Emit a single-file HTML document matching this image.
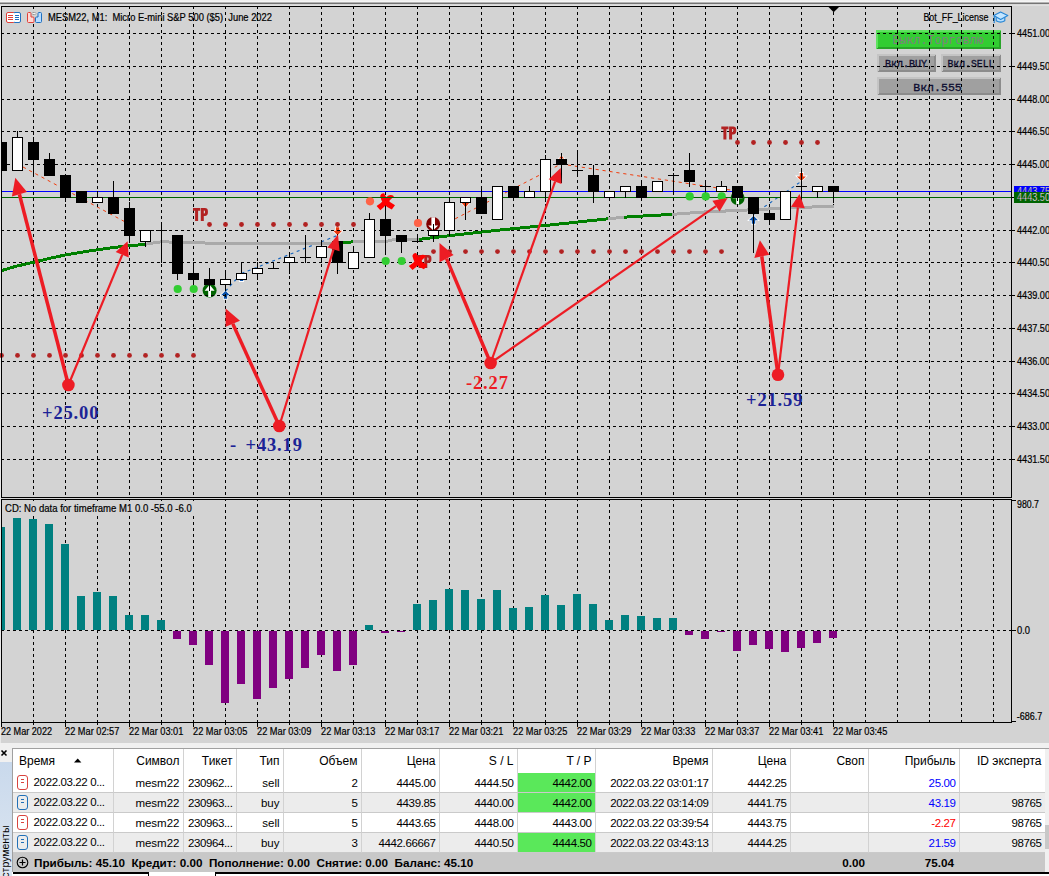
<!DOCTYPE html>
<html><head><meta charset="utf-8"><title>MESM22,M1</title>
<style>
html,body{margin:0;padding:0;}
body{width:1049px;height:876px;overflow:hidden;background:#d3d3d3;position:relative;font-family:"Liberation Sans",sans-serif;}
#chart{position:absolute;left:0;top:0;width:1049px;height:746px;display:block;}
.t11{font-family:"Liberation Sans",sans-serif;font-size:10px;fill:#000;stroke:#000;stroke-width:0.2px;}
.btn{position:absolute;box-sizing:border-box;font-family:"Liberation Mono",monospace;text-align:center;white-space:nowrap;overflow:hidden;}
.gbtn{background:#a0a0a0;border-top:2px solid #c0c0c0;border-left:2px solid #bcbcbc;border-bottom:2px solid #909090;border-right:2px solid #909090;color:#0c0c30;}
#panel{position:absolute;left:0;top:746px;width:1049px;height:130px;background:#fff;overflow:hidden;}
#side{position:absolute;left:0;top:0;width:12px;height:130px;background:#f0f0f0;}
#side .grad{position:absolute;left:0;top:16px;width:12px;height:114px;background:linear-gradient(#c9d9ec,#dde6f1);}
#side .vt{position:absolute;left:-1px;top:145px;transform:rotate(-90deg);transform-origin:0 0;font-size:10.5px;white-space:nowrap;color:#000;width:90px;}
table{position:absolute;left:13px;top:3px;border-collapse:separate;border-spacing:0;table-layout:fixed;width:1032px;font-size:11.5px;color:#000;}
td.n{letter-spacing:-0.38px;}
th{font-size:12px;}
td,th{height:20px;padding:0 3.5px 0 0;text-align:right;font-weight:normal;white-space:nowrap;overflow:hidden;border-right:1px solid #d2d2d2;border-bottom:1px solid #cacaca;box-sizing:border-box;}
th{height:24px;border-bottom:none;padding-top:0px;}
tr.g td{background:#ececec;}
td.l,th.l{text-align:left;padding-left:6px;}
td.tp{background:#5ae85a !important;}
td.pos{color:#0000ff;} td.neg{color:#ff0000;}
.ic{display:inline-block;width:8.6px;height:12.6px;border:1.7px solid #d9433d;border-radius:3px;vertical-align:-4px;margin:0 6px 0 -2px;position:relative;box-sizing:content-box;}
.ic.b{border-color:#2070b8;}
.ic:before,.ic:after{content:"";position:absolute;left:3px;width:3px;height:1px;background:#d9433d;top:3px;}
.ic:after{top:6px;}
.ic.b:before,.ic.b:after{background:#2070b8;}
#sum{position:absolute;left:13px;top:107px;width:1032px;height:19px;background:#c8c8c8;font-weight:bold;font-size:11.7px;line-height:19px;white-space:nowrap;}
</style></head><body>
<svg id="chart" width="1049" height="746" viewBox="0 0 1049 746">
<defs><linearGradient id="tg" x1="0" y1="0" x2="0" y2="1"><stop offset="0" stop-color="#f2f2f2"/><stop offset="0.4" stop-color="#e8e8e8"/><stop offset="0.55" stop-color="#a8a8a8"/><stop offset="0.8" stop-color="#8a8a8a"/><stop offset="1" stop-color="#c8c8c8"/></linearGradient></defs>
<rect x="0" y="0" width="1049" height="746" fill="#d3d3d3"/>
<g shape-rendering="crispEdges"><rect x="0" y="0" width="1049" height="1" fill="#f0f0f0"/><rect x="0" y="1" width="1049" height="1" fill="#f5f5f5"/><rect x="0" y="2" width="1049" height="1" fill="#b4b4b4"/><rect x="0" y="3" width="1049" height="1" fill="#747474"/><rect x="0" y="4" width="1049" height="1" fill="#d8d8d8"/><rect x="0" y="5" width="1049" height="1" fill="#e0e0e0"/></g>
<rect x="0" y="6" width="1" height="737" fill="#e8e8e8"/>
<g shape-rendering="crispEdges"><rect x="876" y="30" width="125" height="19" fill="#32cd32"/><path d="M876 30H1001L999 32H878V47L876 49Z" fill="#5fe25f"/><path d="M1001 49H876L878 47H999V32L1001 30Z" fill="#28a428"/></g>
<g shape-rendering="crispEdges"><rect x="877" y="54" width="59" height="18" fill="#a0a0a0"/><path d="M877 54H936L934 56H879V70L877 72Z" fill="#c4c4c4"/><path d="M936 72H877L879 70H934V56L936 54Z" fill="#8c8c8c"/></g>
<g shape-rendering="crispEdges"><rect x="941" y="54" width="60" height="18" fill="#a0a0a0"/><path d="M941 54H1001L999 56H943V70L941 72Z" fill="#c4c4c4"/><path d="M1001 72H941L943 70H999V56L1001 54Z" fill="#8c8c8c"/></g>
<g shape-rendering="crispEdges"><rect x="877" y="77" width="124" height="18" fill="#a0a0a0"/><path d="M877 77H1001L999 79H879V93L877 95Z" fill="#c4c4c4"/><path d="M1001 95H877L879 93H999V79L1001 77Z" fill="#8c8c8c"/></g>
<g font-family="Liberation Mono, monospace" text-anchor="middle">
<text x="938" y="44" font-size="12" fill="#808080" textLength="91" lengthAdjust="spacingAndGlyphs">Выкл.Торговлю</text>
<text x="906" y="66.5" font-size="10" fill="#0c0c30" stroke="#0c0c30" stroke-width="0.3" textLength="42" lengthAdjust="spacingAndGlyphs">Вкл.BUY</text>
<text x="971" y="66.5" font-size="10" fill="#0c0c30" stroke="#0c0c30" stroke-width="0.3" textLength="47" lengthAdjust="spacingAndGlyphs">Вкл.SELL</text>
<text x="937.5" y="90.5" font-size="11.5" fill="#0c0c30" stroke="#0c0c30" stroke-width="0.3" textLength="48.5" lengthAdjust="spacingAndGlyphs">Вкл.555</text>
</g>
<g transform="translate(225.5,295.3)"><path d="M0 -4.5L4.5 0H1.7V3.5H-1.7V0H-4.5Z" fill="#0a50a8" stroke="#fff" stroke-width="1.6" paint-order="stroke"/></g>
<g transform="translate(753.5,220.3)"><path d="M0 -4.5L4.5 0H1.7V3.5H-1.7V0H-4.5Z" fill="#0a50a8" stroke="#fff" stroke-width="1.6" paint-order="stroke"/></g>
<g transform="translate(241.5,277.6)"><path d="M0 -4.5L4.5 0H1.7V3.5H-1.7V0H-4.5Z" fill="#0a50a8" stroke="#fff" stroke-width="1.6" paint-order="stroke"/></g>
<g transform="translate(337.6,230.7)"><path d="M0 4.5L4.5 0H1.7V-3.5H-1.7V0H-4.5Z" fill="#e8380c" stroke="#fff" stroke-width="1.6" paint-order="stroke"/></g>
<g transform="translate(801.4,176.4)"><path d="M0 4.5L4.5 0H1.7V-3.5H-1.7V0H-4.5Z" fill="#e8380c" stroke="#fff" stroke-width="1.6" paint-order="stroke"/></g>
<path d="M461.5 202.5H469.5L465.5 207.5Z" fill="#e8380c" stroke="#fff" stroke-width="1.2" paint-order="stroke"/>
<path d="M559 158.5H564L561.5 155.5Z" fill="#e8380c" stroke="#fff" stroke-width="1.2" paint-order="stroke"/>
<g fill="none" stroke-width="1.3" stroke-dasharray="3.4 3.4">
<line x1="23" y1="167" x2="129" y2="224" stroke="#f03c0c" stroke-width="1" stroke-dasharray="3.2 3.8"/>
<line x1="449" y1="222" x2="561" y2="164" stroke="#f03c0c" stroke-width="1" stroke-dasharray="3.2 3.8"/>
<line x1="561" y1="164" x2="737" y2="191" stroke="#f03c0c" stroke-width="1" stroke-dasharray="3.2 3.8"/>
<line x1="225.5" y1="291" x2="241.5" y2="273.5" stroke="#1464be" stroke-width="1.15" stroke-dasharray="3 3.6"/>
<line x1="241.5" y1="273.5" x2="337.5" y2="235.4" stroke="#1464be" stroke-width="1.15" stroke-dasharray="3 3.6"/>
<line x1="753.5" y1="214.3" x2="801.5" y2="181.2" stroke="#1464be" stroke-width="1.15" stroke-dasharray="3 3.6"/>
</g>
<g transform="translate(209.6,290.5)"><circle r="7" fill="#006400"/><path d="M0 -5.8L5 0.3H1.4V6.6H-1.4V0.3H-5Z" fill="#fff"/></g>
<g transform="translate(737.6,198)"><circle r="7" fill="#006400"/><path d="M0 -5.8L5 0.3H1.4V6.6H-1.4V0.3H-5Z" fill="#fff"/></g>
<g transform="translate(433.2,224)"><circle r="7" fill="#800000"/><path d="M0 6.3L5 1.4H1.8V-6.8H-1.8V1.4H-5Z" fill="#fff"/></g>
<g shape-rendering="crispEdges" stroke="#000" stroke-width="1" stroke-dasharray="3 3" fill="none">
<path d="M33.5 6V722"/>
<path d="M65.5 6V722"/>
<path d="M97.5 6V722"/>
<path d="M129.5 6V722"/>
<path d="M161.5 6V722"/>
<path d="M193.5 6V722"/>
<path d="M225.5 6V722"/>
<path d="M257.5 6V722"/>
<path d="M289.5 6V722"/>
<path d="M321.5 6V722"/>
<path d="M353.5 6V722"/>
<path d="M385.5 6V722"/>
<path d="M417.5 6V722"/>
<path d="M449.5 6V722"/>
<path d="M481.5 6V722"/>
<path d="M513.5 6V722"/>
<path d="M545.5 6V722"/>
<path d="M577.5 6V722"/>
<path d="M609.5 6V722"/>
<path d="M641.5 6V722"/>
<path d="M673.5 6V722"/>
<path d="M705.5 6V722"/>
<path d="M737.5 6V722"/>
<path d="M769.5 6V722"/>
<path d="M801.5 6V722"/>
<path d="M833.5 6V722"/>
<path d="M865.5 6V722"/>
<path d="M897.5 6V722"/>
<path d="M929.5 6V722"/>
<path d="M961.5 6V722"/>
<path d="M993.5 6V722"/>
<path d="M1 33.5H1011"/>
<path d="M1 66.5H1011"/>
<path d="M1 99.5H1011"/>
<path d="M1 131.5H1011"/>
<path d="M1 164.5H1011"/>
<path d="M1 197.5H1011"/>
<path d="M1 230.5H1011"/>
<path d="M1 262.5H1011"/>
<path d="M1 295.5H1011"/>
<path d="M1 328.5H1011"/>
<path d="M1 361.5H1011"/>
<path d="M1 393.5H1011"/>
<path d="M1 426.5H1011"/>
<path d="M1 459.5H1011"/>
<path d="M1 630.5H1011"/>
</g>
<rect x="2" y="501" width="195" height="14" fill="#d3d3d3"/>
<g transform="translate(193,208)" fill="#b22222"><path d="M0 0H7.2V2.7H5.1V13H2.1V2.7H0Z"/><path fill-rule="evenodd" d="M7.8 0H11.8Q14.9 0 14.9 3V4.8Q14.9 7.9 11.8 7.9H10.8V13H7.8ZM10.8 2.4V5.5H11.2Q12 5.5 12 4.6V3.3Q12 2.4 11.2 2.4Z"/></g>
<g transform="translate(416.5,255)" fill="#b22222"><path d="M0 0H7.2V2.7H5.1V13H2.1V2.7H0Z"/><path fill-rule="evenodd" d="M7.8 0H11.8Q14.9 0 14.9 3V4.8Q14.9 7.9 11.8 7.9H10.8V13H7.8ZM10.8 2.4V5.5H11.2Q12 5.5 12 4.6V3.3Q12 2.4 11.2 2.4Z"/></g>
<g transform="translate(721.3,126.5)" fill="#b22222"><path d="M0 0H7.2V2.7H5.1V13H2.1V2.7H0Z"/><path fill-rule="evenodd" d="M7.8 0H11.8Q14.9 0 14.9 3V4.8Q14.9 7.9 11.8 7.9H10.8V13H7.8ZM10.8 2.4V5.5H11.2Q12 5.5 12 4.6V3.3Q12 2.4 11.2 2.4Z"/></g>
<g transform="translate(385.8,201.8)" fill="#ff0000"><path d="M-5.6 -5.6Q-5.0 -8.8 -1.8 -8.6Q0.8 -3.0 4.2 0.2L9.2 3.4L6.0 7.6Q1.0 5.8 -2.2 2.0Q-5.0 -2.0 -5.6 -5.6Z"/><path d="M2.2 -6.0Q5.0 -8.0 8.2 -5.6Q3.8 -1.8 1.4 1.8Q-1.8 5.8 -5.5 8.4L-9.2 4.2Q-4.8 1.8 -1.9 -2.0Q0.2 -4.6 2.2 -6.0Z"/></g>
<g transform="translate(418,261.7)" fill="#ff0000"><path d="M-5.6 -5.6Q-5.0 -8.8 -1.8 -8.6Q0.8 -3.0 4.2 0.2L9.2 3.4L6.0 7.6Q1.0 5.8 -2.2 2.0Q-5.0 -2.0 -5.6 -5.6Z"/><path d="M2.2 -6.0Q5.0 -8.0 8.2 -5.6Q3.8 -1.8 1.4 1.8Q-1.8 5.8 -5.5 8.4L-9.2 4.2Q-4.8 1.8 -1.9 -2.0Q0.2 -4.6 2.2 -6.0Z"/></g>
<g shape-rendering="crispEdges"><rect x="2" y="191" width="1009" height="1" fill="#0000ff"/><rect x="2" y="197" width="1009" height="1" fill="#006400"/></g>
<g fill="#b22222">
<circle cx="1.5" cy="355.4" r="2.4"/>
<circle cx="17.5" cy="355.4" r="2.4"/>
<circle cx="33.5" cy="355.4" r="2.4"/>
<circle cx="49.5" cy="355.4" r="2.4"/>
<circle cx="65.5" cy="355.4" r="2.4"/>
<circle cx="81.5" cy="355.4" r="2.4"/>
<circle cx="97.5" cy="355.4" r="2.4"/>
<circle cx="113.5" cy="355.4" r="2.4"/>
<circle cx="129.5" cy="355.4" r="2.4"/>
<circle cx="145.5" cy="355.4" r="2.4"/>
<circle cx="161.5" cy="355.4" r="2.4"/>
<circle cx="177.5" cy="355.4" r="2.4"/>
<circle cx="193.5" cy="355.4" r="2.4"/>
<circle cx="209.5" cy="224.5" r="2.4"/>
<circle cx="225.5" cy="224.5" r="2.4"/>
<circle cx="241.5" cy="224.5" r="2.4"/>
<circle cx="257.5" cy="224.5" r="2.4"/>
<circle cx="273.5" cy="224.5" r="2.4"/>
<circle cx="289.5" cy="224.5" r="2.4"/>
<circle cx="305.5" cy="224.5" r="2.4"/>
<circle cx="321.5" cy="224.5" r="2.4"/>
<circle cx="337.5" cy="224.5" r="2.4"/>
<circle cx="353.5" cy="224.5" r="2.4"/>
<circle cx="433.5" cy="251.6" r="2.4"/>
<circle cx="449.5" cy="251.6" r="2.4"/>
<circle cx="465.5" cy="251.6" r="2.4"/>
<circle cx="481.5" cy="251.6" r="2.4"/>
<circle cx="497.5" cy="251.6" r="2.4"/>
<circle cx="513.5" cy="251.6" r="2.4"/>
<circle cx="529.5" cy="251.6" r="2.4"/>
<circle cx="545.5" cy="251.6" r="2.4"/>
<circle cx="561.5" cy="251.6" r="2.4"/>
<circle cx="577.5" cy="251.6" r="2.4"/>
<circle cx="593.5" cy="251.6" r="2.4"/>
<circle cx="609.5" cy="251.6" r="2.4"/>
<circle cx="625.5" cy="251.6" r="2.4"/>
<circle cx="641.5" cy="251.6" r="2.4"/>
<circle cx="657.5" cy="251.6" r="2.4"/>
<circle cx="673.5" cy="251.6" r="2.4"/>
<circle cx="689.5" cy="251.6" r="2.4"/>
<circle cx="705.5" cy="251.6" r="2.4"/>
<circle cx="721.5" cy="251.6" r="2.4"/>
<circle cx="737.5" cy="142.5" r="2.4"/>
<circle cx="753.5" cy="142.5" r="2.4"/>
<circle cx="769.5" cy="142.5" r="2.4"/>
<circle cx="785.5" cy="142.5" r="2.4"/>
<circle cx="801.5" cy="142.5" r="2.4"/>
<circle cx="817.5" cy="142.5" r="2.4"/>
</g>
<g fill="#32cd32">
<circle cx="177.7" cy="289" r="4.1"/>
<circle cx="193.7" cy="289" r="4.1"/>
<circle cx="385.7" cy="261" r="4.1"/>
<circle cx="401.7" cy="261" r="4.1"/>
<circle cx="689.7" cy="196.4" r="4.1"/>
<circle cx="705.7" cy="196.4" r="4.1"/>
<circle cx="721.7" cy="196.4" r="4.1"/>
</g>
<g fill="#ff6347">
<circle cx="370" cy="201.3" r="4.1"/>
<circle cx="418" cy="223" r="4.1"/>
</g>
<g shape-rendering="crispEdges" fill="#000">
<rect x="1" y="6" width="1011" height="1"/>
<rect x="1" y="6" width="1" height="717"/>
<rect x="1011" y="6" width="1" height="717"/>
<rect x="1" y="497" width="1011" height="1"/>
<rect x="1" y="498" width="1011" height="1" fill="#d3d3d3"/>
<rect x="1" y="499" width="1011" height="1"/>
<rect x="1" y="722" width="1011" height="1"/>
<rect x="1011" y="33" width="4" height="1"/>
<rect x="1011" y="66" width="4" height="1"/>
<rect x="1011" y="99" width="4" height="1"/>
<rect x="1011" y="131" width="4" height="1"/>
<rect x="1011" y="164" width="4" height="1"/>
<rect x="1011" y="197" width="4" height="1"/>
<rect x="1011" y="230" width="4" height="1"/>
<rect x="1011" y="262" width="4" height="1"/>
<rect x="1011" y="295" width="4" height="1"/>
<rect x="1011" y="328" width="4" height="1"/>
<rect x="1011" y="361" width="4" height="1"/>
<rect x="1011" y="393" width="4" height="1"/>
<rect x="1011" y="426" width="4" height="1"/>
<rect x="1011" y="459" width="4" height="1"/>
<rect x="1011" y="630" width="5" height="1"/><rect x="1011" y="500" width="5" height="1"/><rect x="1011" y="721" width="5" height="1"/>
<rect x="1011" y="197" width="4" height="1"/>
<rect x="1" y="722" width="1" height="5"/>
<rect x="65" y="722" width="1" height="5"/>
<rect x="129" y="722" width="1" height="5"/>
<rect x="193" y="722" width="1" height="5"/>
<rect x="257" y="722" width="1" height="5"/>
<rect x="321" y="722" width="1" height="5"/>
<rect x="385" y="722" width="1" height="5"/>
<rect x="449" y="722" width="1" height="5"/>
<rect x="513" y="722" width="1" height="5"/>
<rect x="577" y="722" width="1" height="5"/>
<rect x="641" y="722" width="1" height="5"/>
<rect x="705" y="722" width="1" height="5"/>
<rect x="769" y="722" width="1" height="5"/>
<rect x="833" y="722" width="1" height="5"/>
<rect x="33" y="722" width="1" height="3"/>
<rect x="97" y="722" width="1" height="3"/>
<rect x="161" y="722" width="1" height="3"/>
<rect x="225" y="722" width="1" height="3"/>
<rect x="289" y="722" width="1" height="3"/>
<rect x="353" y="722" width="1" height="3"/>
<rect x="417" y="722" width="1" height="3"/>
<rect x="481" y="722" width="1" height="3"/>
<rect x="545" y="722" width="1" height="3"/>
<rect x="609" y="722" width="1" height="3"/>
<rect x="673" y="722" width="1" height="3"/>
<rect x="737" y="722" width="1" height="3"/>
<rect x="801" y="722" width="1" height="3"/>
</g>
<polygon points="828.5,7 839,7 833.7,12.3" fill="#000"/>
<g fill="none" stroke-width="3" stroke-linejoin="round" shape-rendering="crispEdges">
<path d="M2 270.5L17 266L33 262.4L49 258.5L65 255L81 252.3L97 249.8L113 247.6L129 245.8L145 244.4" stroke="#008000"/>
<path d="M145 244.4L153 243L161 241.8L180 242.3L200 242.8L225 243.8L311 243.8L330 243.2L343 243" stroke="#a9a9a9"/>
<path d="M343 243L353 241.8" stroke="#008000"/>
<path d="M353 241.8L386 241.5L394 239.6L419 239.4" stroke="#a9a9a9"/>
<path d="M419 239.4L450 235.6L500 230L550 225L608 218.8" stroke="#008000"/>
<path d="M608 218.8L624 217.2" stroke="#a9a9a9"/>
<path d="M624 217.2L650 215.6L672 214.4" stroke="#008000"/>
<path d="M672 214.4L700 212.2L760 209.4L834 206" stroke="#a9a9a9"/>
</g>
<clipPath id="cc"><rect x="2" y="7" width="1009" height="490"/></clipPath><g shape-rendering="crispEdges" clip-path="url(#cc)">
<rect x="-4" y="142" width="11" height="29" fill="#000"/>
<rect x="17" y="131" width="1" height="6" fill="#000"/>
<rect x="12" y="137" width="11" height="34" fill="#000"/>
<rect x="13" y="138" width="9" height="32" fill="#fff"/>
<rect x="33" y="137" width="1" height="5" fill="#000"/>
<rect x="33" y="159" width="1" height="17" fill="#000"/>
<rect x="28" y="142" width="11" height="18" fill="#000"/>
<rect x="49" y="153" width="1" height="6" fill="#000"/>
<rect x="44" y="159" width="11" height="17" fill="#000"/>
<rect x="65" y="197" width="1" height="5" fill="#000"/>
<rect x="60" y="175" width="11" height="23" fill="#000"/>
<rect x="76" y="191" width="11" height="12" fill="#000"/>
<rect x="97" y="191" width="1" height="6" fill="#000"/>
<rect x="92" y="197" width="11" height="6" fill="#000"/>
<rect x="93" y="198" width="9" height="4" fill="#fff"/>
<rect x="113" y="181" width="1" height="16" fill="#000"/>
<rect x="108" y="197" width="11" height="17" fill="#000"/>
<rect x="129" y="202" width="1" height="6" fill="#000"/>
<rect x="129" y="235" width="1" height="8" fill="#000"/>
<rect x="124" y="208" width="11" height="28" fill="#000"/>
<rect x="145" y="241" width="1" height="6" fill="#000"/>
<rect x="140" y="230" width="11" height="12" fill="#000"/>
<rect x="141" y="231" width="9" height="10" fill="#fff"/>
<rect x="161" y="222" width="1" height="41" fill="#000"/>
<rect x="156" y="230" width="11" height="1" fill="#000"/>
<rect x="177" y="273" width="1" height="7" fill="#000"/>
<rect x="172" y="235" width="11" height="39" fill="#000"/>
<rect x="193" y="262" width="1" height="11" fill="#000"/>
<rect x="193" y="279" width="1" height="6" fill="#000"/>
<rect x="188" y="273" width="11" height="7" fill="#000"/>
<rect x="209" y="268" width="1" height="11" fill="#000"/>
<rect x="209" y="284" width="1" height="7" fill="#000"/>
<rect x="204" y="279" width="11" height="6" fill="#000"/>
<rect x="225" y="270" width="1" height="9" fill="#000"/>
<rect x="225" y="284" width="1" height="7" fill="#000"/>
<rect x="220" y="279" width="11" height="6" fill="#000"/>
<rect x="221" y="280" width="9" height="4" fill="#fff"/>
<rect x="241" y="262" width="1" height="11" fill="#000"/>
<rect x="236" y="273" width="11" height="7" fill="#000"/>
<rect x="237" y="274" width="9" height="5" fill="#fff"/>
<rect x="257" y="262" width="1" height="6" fill="#000"/>
<rect x="257" y="273" width="1" height="7" fill="#000"/>
<rect x="252" y="268" width="11" height="6" fill="#000"/>
<rect x="253" y="269" width="9" height="4" fill="#fff"/>
<rect x="273" y="262" width="1" height="7" fill="#000"/>
<rect x="268" y="268" width="11" height="1" fill="#000"/>
<rect x="289" y="252" width="1" height="5" fill="#000"/>
<rect x="289" y="262" width="1" height="12" fill="#000"/>
<rect x="284" y="257" width="11" height="6" fill="#000"/>
<rect x="285" y="258" width="9" height="4" fill="#fff"/>
<rect x="305" y="235" width="1" height="28" fill="#000"/>
<rect x="300" y="257" width="11" height="1" fill="#000"/>
<rect x="321" y="241" width="1" height="5" fill="#000"/>
<rect x="321" y="257" width="1" height="6" fill="#000"/>
<rect x="316" y="246" width="11" height="12" fill="#000"/>
<rect x="317" y="247" width="9" height="10" fill="#fff"/>
<rect x="337" y="234" width="1" height="7" fill="#000"/>
<rect x="337" y="262" width="1" height="12" fill="#000"/>
<rect x="332" y="241" width="11" height="22" fill="#000"/>
<rect x="353" y="247" width="1" height="5" fill="#000"/>
<rect x="348" y="252" width="11" height="17" fill="#000"/>
<rect x="349" y="253" width="9" height="15" fill="#fff"/>
<rect x="369" y="213" width="1" height="6" fill="#000"/>
<rect x="364" y="219" width="11" height="39" fill="#000"/>
<rect x="365" y="220" width="9" height="37" fill="#fff"/>
<rect x="385" y="207" width="1" height="12" fill="#000"/>
<rect x="385" y="235" width="1" height="20" fill="#000"/>
<rect x="380" y="219" width="11" height="17" fill="#000"/>
<rect x="401" y="241" width="1" height="12" fill="#000"/>
<rect x="396" y="235" width="11" height="7" fill="#000"/>
<rect x="417" y="235" width="1" height="7" fill="#000"/>
<rect x="412" y="241" width="11" height="1" fill="#000"/>
<rect x="433" y="224" width="1" height="6" fill="#000"/>
<rect x="433" y="235" width="1" height="7" fill="#000"/>
<rect x="428" y="230" width="11" height="6" fill="#000"/>
<rect x="429" y="231" width="9" height="4" fill="#fff"/>
<rect x="449" y="197" width="1" height="5" fill="#000"/>
<rect x="449" y="230" width="1" height="6" fill="#000"/>
<rect x="444" y="202" width="11" height="29" fill="#000"/>
<rect x="445" y="203" width="9" height="27" fill="#fff"/>
<rect x="465" y="202" width="1" height="18" fill="#000"/>
<rect x="460" y="197" width="11" height="6" fill="#000"/>
<rect x="461" y="198" width="9" height="4" fill="#fff"/>
<rect x="481" y="186" width="1" height="11" fill="#000"/>
<rect x="476" y="197" width="11" height="17" fill="#000"/>
<rect x="492" y="186" width="11" height="34" fill="#000"/>
<rect x="493" y="187" width="9" height="32" fill="#fff"/>
<rect x="508" y="186" width="11" height="12" fill="#000"/>
<rect x="529" y="186" width="1" height="5" fill="#000"/>
<rect x="524" y="191" width="11" height="7" fill="#000"/>
<rect x="525" y="192" width="9" height="5" fill="#fff"/>
<rect x="545" y="155" width="1" height="4" fill="#000"/>
<rect x="545" y="191" width="1" height="11" fill="#000"/>
<rect x="540" y="159" width="11" height="33" fill="#000"/>
<rect x="541" y="160" width="9" height="31" fill="#fff"/>
<rect x="561" y="153" width="1" height="6" fill="#000"/>
<rect x="561" y="164" width="1" height="19" fill="#000"/>
<rect x="556" y="159" width="11" height="6" fill="#000"/>
<rect x="577" y="150" width="1" height="27" fill="#000"/>
<rect x="572" y="170" width="11" height="1" fill="#000"/>
<rect x="593" y="165" width="1" height="10" fill="#000"/>
<rect x="593" y="191" width="1" height="12" fill="#000"/>
<rect x="588" y="175" width="11" height="17" fill="#000"/>
<rect x="604" y="191" width="11" height="7" fill="#000"/>
<rect x="605" y="192" width="9" height="5" fill="#fff"/>
<rect x="625" y="191" width="1" height="7" fill="#000"/>
<rect x="620" y="186" width="11" height="6" fill="#000"/>
<rect x="621" y="187" width="9" height="4" fill="#fff"/>
<rect x="641" y="180" width="1" height="6" fill="#000"/>
<rect x="636" y="186" width="11" height="12" fill="#000"/>
<rect x="652" y="181" width="11" height="11" fill="#000"/>
<rect x="653" y="182" width="9" height="9" fill="#fff"/>
<rect x="673" y="173" width="1" height="21" fill="#000"/>
<rect x="668" y="175" width="11" height="1" fill="#000"/>
<rect x="689" y="153" width="1" height="17" fill="#000"/>
<rect x="689" y="181" width="1" height="6" fill="#000"/>
<rect x="684" y="170" width="11" height="12" fill="#000"/>
<rect x="705" y="180" width="1" height="12" fill="#000"/>
<rect x="700" y="186" width="11" height="1" fill="#000"/>
<rect x="721" y="181" width="1" height="5" fill="#000"/>
<rect x="716" y="186" width="11" height="6" fill="#000"/>
<rect x="717" y="187" width="9" height="4" fill="#fff"/>
<rect x="732" y="186" width="11" height="12" fill="#000"/>
<rect x="753" y="213" width="1" height="40" fill="#000"/>
<rect x="748" y="197" width="11" height="17" fill="#000"/>
<rect x="769" y="219" width="1" height="6" fill="#000"/>
<rect x="764" y="213" width="11" height="7" fill="#000"/>
<rect x="780" y="191" width="11" height="29" fill="#000"/>
<rect x="781" y="192" width="9" height="27" fill="#fff"/>
<rect x="801" y="169" width="1" height="30" fill="#000"/>
<rect x="796" y="186" width="11" height="1" fill="#000"/>
<rect x="817" y="191" width="1" height="7" fill="#000"/>
<rect x="812" y="186" width="11" height="6" fill="#000"/>
<rect x="813" y="187" width="9" height="4" fill="#fff"/>
<rect x="833" y="191" width="1" height="12" fill="#000"/>
<rect x="828" y="186" width="11" height="6" fill="#000"/>
</g>
<g>
<line x1="68.4" y1="385" x2="19.4" y2="194.2" stroke="#ed1c24" stroke-width="3.5"/><polygon points="15.3,177.8 11.9,196.4 27,191.9" fill="#ed1c24"/>
<line x1="68.4" y1="385" x2="122.2" y2="254.8" stroke="#ed1c24" stroke-width="2.2"/><polygon points="127.6,241.3 115.7,252 128.8,257.6" fill="#ed1c24"/>
<line x1="279.3" y1="426" x2="232.8" y2="323.8" stroke="#ed1c24" stroke-width="3.4"/><polygon points="225.6,308.5 225.6,326.8 240,320.7" fill="#ed1c24"/>
<line x1="279.3" y1="426" x2="333.5" y2="249.4" stroke="#ed1c24" stroke-width="2.2"/><polygon points="338,234.5 327.4,247.5 339.6,251.3" fill="#ed1c24"/>
<line x1="490.6" y1="363" x2="446.6" y2="258.7" stroke="#ed1c24" stroke-width="3.4"/><polygon points="439.5,243.1 439.5,262.3 453.6,255.1" fill="#ed1c24"/>
<line x1="490.6" y1="363" x2="555.1" y2="181.6" stroke="#ed1c24" stroke-width="2.2"/><polygon points="560.7,168 548.7,179.2 561.5,184" fill="#ed1c24"/>
<line x1="490.6" y1="363" x2="716.0" y2="206.2" stroke="#ed1c24" stroke-width="2.2"/><polygon points="727.6,198 712.4,200.8 719.6,211.5" fill="#ed1c24"/>
<line x1="778" y1="374.8" x2="761.8" y2="256.3" stroke="#ed1c24" stroke-width="3.5"/><polygon points="759.9,240.3 754.3,257.9 769.4,254.7" fill="#ed1c24"/>
<line x1="778" y1="374.8" x2="797.9" y2="207.5" stroke="#ed1c24" stroke-width="2.2"/><polygon points="799.5,194 791,206.7 804.8,208.3" fill="#ed1c24"/>
<circle cx="68.4" cy="385" r="6.3" fill="#ed1c24"/>
<circle cx="279.3" cy="426" r="6.3" fill="#ed1c24"/>
<circle cx="490.6" cy="363" r="6.3" fill="#ed1c24"/>
<circle cx="778" cy="374.8" r="6.3" fill="#ed1c24"/>
</g>
<g shape-rendering="crispEdges">
<rect x="2" y="527" width="3" height="103" fill="#008080"/>
<rect x="13" y="518" width="8" height="112" fill="#008080"/>
<rect x="29" y="519" width="8" height="111" fill="#008080"/>
<rect x="45" y="524" width="8" height="106" fill="#008080"/>
<rect x="61" y="544" width="8" height="86" fill="#008080"/>
<rect x="77" y="596" width="8" height="34" fill="#008080"/>
<rect x="93" y="592" width="8" height="38" fill="#008080"/>
<rect x="109" y="596" width="8" height="34" fill="#008080"/>
<rect x="125" y="615" width="8" height="15" fill="#008080"/>
<rect x="141" y="615" width="8" height="15" fill="#008080"/>
<rect x="157" y="620" width="8" height="10" fill="#008080"/>
<rect x="173" y="631" width="8" height="8" fill="#800080"/>
<rect x="189" y="631" width="8" height="14" fill="#800080"/>
<rect x="205" y="631" width="8" height="34" fill="#800080"/>
<rect x="221" y="631" width="8" height="72" fill="#800080"/>
<rect x="237" y="631" width="8" height="53" fill="#800080"/>
<rect x="253" y="631" width="8" height="68" fill="#800080"/>
<rect x="269" y="631" width="8" height="57" fill="#800080"/>
<rect x="285" y="631" width="8" height="48" fill="#800080"/>
<rect x="301" y="631" width="8" height="37" fill="#800080"/>
<rect x="317" y="631" width="8" height="24" fill="#800080"/>
<rect x="333" y="631" width="8" height="40" fill="#800080"/>
<rect x="349" y="631" width="8" height="34" fill="#800080"/>
<rect x="365" y="625" width="8" height="5" fill="#008080"/>
<rect x="381" y="631" width="8" height="2" fill="#800080"/>
<rect x="397" y="631" width="8" height="1" fill="#800080"/>
<rect x="413" y="604" width="8" height="26" fill="#008080"/>
<rect x="429" y="600" width="8" height="30" fill="#008080"/>
<rect x="445" y="589" width="8" height="41" fill="#008080"/>
<rect x="461" y="590" width="8" height="40" fill="#008080"/>
<rect x="477" y="599" width="8" height="31" fill="#008080"/>
<rect x="493" y="590" width="8" height="40" fill="#008080"/>
<rect x="509" y="608" width="8" height="22" fill="#008080"/>
<rect x="525" y="607" width="8" height="23" fill="#008080"/>
<rect x="541" y="595" width="8" height="35" fill="#008080"/>
<rect x="557" y="605" width="8" height="25" fill="#008080"/>
<rect x="573" y="594" width="8" height="36" fill="#008080"/>
<rect x="589" y="604" width="8" height="26" fill="#008080"/>
<rect x="605" y="620" width="8" height="10" fill="#008080"/>
<rect x="621" y="615" width="8" height="15" fill="#008080"/>
<rect x="637" y="616" width="8" height="14" fill="#008080"/>
<rect x="653" y="618" width="8" height="12" fill="#008080"/>
<rect x="669" y="618" width="8" height="12" fill="#008080"/>
<rect x="685" y="631" width="8" height="4" fill="#800080"/>
<rect x="701" y="631" width="8" height="8" fill="#800080"/>
<rect x="717" y="631" width="8" height="1" fill="#800080"/>
<rect x="733" y="631" width="8" height="20" fill="#800080"/>
<rect x="749" y="631" width="8" height="14" fill="#800080"/>
<rect x="765" y="631" width="8" height="18" fill="#800080"/>
<rect x="781" y="631" width="8" height="21" fill="#800080"/>
<rect x="797" y="631" width="8" height="17" fill="#800080"/>
<rect x="813" y="631" width="8" height="12" fill="#800080"/>
<rect x="829" y="631" width="8" height="7" fill="#800080"/>
</g>
<text class="t11" x="1017" y="37" textLength="33" lengthAdjust="spacingAndGlyphs">4451.00</text>
<text class="t11" x="1017" y="70" textLength="33" lengthAdjust="spacingAndGlyphs">4449.50</text>
<text class="t11" x="1017" y="103" textLength="33" lengthAdjust="spacingAndGlyphs">4448.00</text>
<text class="t11" x="1017" y="135" textLength="33" lengthAdjust="spacingAndGlyphs">4446.50</text>
<text class="t11" x="1017" y="168" textLength="33" lengthAdjust="spacingAndGlyphs">4445.00</text>
<text class="t11" x="1017" y="201" textLength="33" lengthAdjust="spacingAndGlyphs">4443.50</text>
<text class="t11" x="1017" y="234" textLength="33" lengthAdjust="spacingAndGlyphs">4442.00</text>
<text class="t11" x="1017" y="266" textLength="33" lengthAdjust="spacingAndGlyphs">4440.50</text>
<text class="t11" x="1017" y="299" textLength="33" lengthAdjust="spacingAndGlyphs">4439.00</text>
<text class="t11" x="1017" y="332" textLength="33" lengthAdjust="spacingAndGlyphs">4437.50</text>
<text class="t11" x="1017" y="365" textLength="33" lengthAdjust="spacingAndGlyphs">4436.00</text>
<text class="t11" x="1017" y="397" textLength="33" lengthAdjust="spacingAndGlyphs">4434.50</text>
<text class="t11" x="1017" y="430" textLength="33" lengthAdjust="spacingAndGlyphs">4433.00</text>
<text class="t11" x="1017" y="463" textLength="33" lengthAdjust="spacingAndGlyphs">4431.50</text>
<g shape-rendering="crispEdges"><rect x="1014" y="186" width="35" height="11" fill="#0000ff"/></g>
<text class="t11" x="1017" y="195" style="fill:#fff" textLength="33" lengthAdjust="spacingAndGlyphs">4443.75</text>
<g shape-rendering="crispEdges"><rect x="1014" y="192" width="35" height="11" fill="#006400"/></g>
<text class="t11" x="1017" y="201" style="fill:#fff" textLength="33" lengthAdjust="spacingAndGlyphs">4443.50</text>
<text class="t11" x="1017" y="508" textLength="22" lengthAdjust="spacingAndGlyphs">980.7</text>
<text class="t11" x="1017" y="634" textLength="13" lengthAdjust="spacingAndGlyphs">0.0</text>
<text class="t11" x="1016.7" y="720" textLength="25.5" lengthAdjust="spacingAndGlyphs">-686.7</text>
<text class="t11" x="1" y="735" textLength="51" lengthAdjust="spacingAndGlyphs">22 Mar 2022</text>
<text class="t11" x="65" y="735" textLength="54.4" lengthAdjust="spacingAndGlyphs">22 Mar 02:57</text>
<text class="t11" x="129" y="735" textLength="54.4" lengthAdjust="spacingAndGlyphs">22 Mar 03:01</text>
<text class="t11" x="193" y="735" textLength="54.4" lengthAdjust="spacingAndGlyphs">22 Mar 03:05</text>
<text class="t11" x="257" y="735" textLength="54.4" lengthAdjust="spacingAndGlyphs">22 Mar 03:09</text>
<text class="t11" x="321" y="735" textLength="54.4" lengthAdjust="spacingAndGlyphs">22 Mar 03:13</text>
<text class="t11" x="385" y="735" textLength="54.4" lengthAdjust="spacingAndGlyphs">22 Mar 03:17</text>
<text class="t11" x="449" y="735" textLength="54.4" lengthAdjust="spacingAndGlyphs">22 Mar 03:21</text>
<text class="t11" x="513" y="735" textLength="54.4" lengthAdjust="spacingAndGlyphs">22 Mar 03:25</text>
<text class="t11" x="577" y="735" textLength="54.4" lengthAdjust="spacingAndGlyphs">22 Mar 03:29</text>
<text class="t11" x="641" y="735" textLength="54.4" lengthAdjust="spacingAndGlyphs">22 Mar 03:33</text>
<text class="t11" x="705" y="735" textLength="54.4" lengthAdjust="spacingAndGlyphs">22 Mar 03:37</text>
<text class="t11" x="769" y="735" textLength="54.4" lengthAdjust="spacingAndGlyphs">22 Mar 03:41</text>
<text class="t11" x="833" y="735" textLength="54.4" lengthAdjust="spacingAndGlyphs">22 Mar 03:45</text>
<text class="t11" x="48" y="21" textLength="224" lengthAdjust="spacingAndGlyphs" xml:space="preserve">MESM22, M1:  Micro E-mini S&amp;P 500 ($5)  June 2022</text>
<text class="t11" x="923.4" y="21" textLength="65" lengthAdjust="spacingAndGlyphs">Bot_FF_License</text>
<text class="t11" x="5" y="512" textLength="186.7" lengthAdjust="spacingAndGlyphs">CD: No data for timeframe M1 0.0 -55.0 -6.0</text>
<g transform="translate(6,12)">
<rect x="0.5" y="0.5" width="8" height="10" rx="1.5" fill="#fff" stroke="#e04038"/>
<rect x="7.5" y="0.5" width="7" height="10" rx="1.5" fill="#fff" stroke="#2070c0"/>
<rect x="7" y="1" width="1.5" height="9" fill="#fff"/>
<g shape-rendering="crispEdges"><rect x="2" y="3" width="5" height="1" fill="#e04038"/><rect x="2" y="5" width="5" height="1" fill="#e04038"/><rect x="2" y="7" width="5" height="1" fill="#e04038"/>
<rect x="9" y="3" width="4" height="1" fill="#2070c0"/><rect x="9" y="5" width="4" height="1" fill="#2070c0"/><rect x="9" y="7" width="4" height="1" fill="#2070c0"/></g>
</g>
<g transform="translate(27,12)">
<path d="M0.5 1.5Q0.5 0.5 1.5 0.5H3Q4 0.5 4 1.5V5H6Q7 5 7 6V9.5Q7 10.5 6 10.5H1.5Q0.5 10.5 0.5 9.5Z" fill="#ffd8d4" stroke="#e04038"/>
<path d="M14.5 1.5Q14.5 0.5 13.5 0.5H12Q11 0.5 11 1.5V5H9.5Q8.5 5 8.5 6V9.5Q8.5 10.5 9.5 10.5H13.5Q14.5 10.5 14.5 9.5Z" fill="#b8dcff" stroke="#2070c0"/>
<rect x="5" y="0.5" width="4" height="2" rx="0.8" fill="#f4f4f4" stroke="#a0a0a0" stroke-width="0.8"/>
</g>
<g transform="translate(993,11.5)" stroke="#2585d5" stroke-width="1.1" stroke-linejoin="round">
<path d="M3.2 5.5V9.2Q7.5 12 11.8 9.2V5.5" fill="#b8e0ff"/>
<path d="M7.6 0.6L14.8 4.1L7.6 7.9L0.8 4.1Z" fill="#c4e6ff"/>
<path d="M1.3 4.6V9.8" fill="none" stroke-width="1.2"/><circle cx="1.3" cy="10.6" r="0.9" fill="#2585d5" stroke="none"/>
</g>
<g font-family="Liberation Serif, serif" font-weight="bold" font-size="18.5" letter-spacing="0.85">
<text x="42" y="419" fill="#1c2396">+25.00</text>
<text x="230" y="451" fill="#1c2396">-</text><text x="245.5" y="451" fill="#1c2396">+43.19</text>
<text x="466" y="389" fill="#ed1c24">-2.27</text>
<text x="746" y="406" fill="#1c2396">+21.59</text>
</g>
<rect x="0" y="743" width="1049" height="3" fill="#f0f0f0"/>
</svg>
<div id="panel">
<div id="side"><svg width="12" height="16" style="position:absolute;left:0;top:0"><path d="M1.5 4.5L6.5 9.5M6.5 4.5L1.5 9.5" stroke="#000" stroke-width="1.6"/></svg><div class="grad"></div><div class="vt">Инструменты</div></div>
<div style="position:absolute;left:0;top:0;width:1049px;height:2px;background:#f0f0f0"></div><div style="position:absolute;left:12px;top:2px;width:1037px;height:1px;background:#a0a0a0"></div>
<div style="position:absolute;left:12px;top:2px;width:1px;height:124px;background:#a0a0a0"></div>
<table><colgroup><col style="width:101px"><col style="width:70px"><col style="width:53px"><col style="width:47px"><col style="width:78px"><col style="width:78px"><col style="width:78px"><col style="width:78px"><col style="width:117px"><col style="width:78px"><col style="width:78px"><col style="width:91px"><col style="width:85px"></colgroup>
<tr><th class="l">Время<svg width="8" height="5" style="margin-left:19px;vertical-align:2px"><path d="M0 4.5L3.7 0.5L7.4 4.5Z" fill="#000"/></svg></th><th>Символ</th><th>Тикет</th><th>Тип</th><th>Объем</th><th>Цена</th><th>S / L</th><th>T / P</th><th>Время</th><th>Цена</th><th>Своп</th><th>Прибыль</th><th style="border-right:none">ID эксперта</th></tr>
<tr><td class="l n"><span class="ic"></span>2022.03.22 0...</td><td>mesm22</td><td class="n">230962...</td><td>sell</td><td class="n">2</td><td class="n">4445.00</td><td class="n">4444.50</td><td class="n tp">4442.00</td><td class="n">2022.03.22 03:01:17</td><td class="n">4442.25</td><td></td><td class="n pos">25.00</td><td class="n" style="border-right:none"></td></tr>
<tr class="g"><td class="l n"><span class="ic b"></span>2022.03.22 0...</td><td>mesm22</td><td class="n">230963...</td><td>buy</td><td class="n">5</td><td class="n">4439.85</td><td class="n">4440.00</td><td class="n tp">4442.00</td><td class="n">2022.03.22 03:14:09</td><td class="n">4441.75</td><td></td><td class="n pos">43.19</td><td class="n" style="border-right:none">98765</td></tr>
<tr><td class="l n"><span class="ic"></span>2022.03.22 0...</td><td>mesm22</td><td class="n">230963...</td><td>sell</td><td class="n">5</td><td class="n">4443.65</td><td class="n">4448.00</td><td class="n">4443.00</td><td class="n">2022.03.22 03:39:54</td><td class="n">4443.75</td><td></td><td class="n neg">-2.27</td><td class="n" style="border-right:none">98765</td></tr>
<tr class="g"><td class="l n"><span class="ic b"></span>2022.03.22 0...</td><td>mesm22</td><td class="n">230964...</td><td>buy</td><td class="n">3</td><td class="n">4442.66667</td><td class="n">4440.50</td><td class="n tp">4444.50</td><td class="n">2022.03.22 03:43:13</td><td class="n">4444.25</td><td></td><td class="n pos">21.59</td><td class="n" style="border-right:none">98765</td></tr>
</table>
<div id="sum"><svg width="13" height="13" style="position:absolute;left:3px;top:3px"><circle cx="6.5" cy="6.5" r="5.3" fill="none" stroke="#000" stroke-width="1.1"/><path d="M3.5 6.5H9.5M6.5 3.5V9.5" stroke="#000" stroke-width="1.2"/></svg><span style="position:absolute;left:21px">Прибыль: 45.10&nbsp; Кредит: 0.00&nbsp; Пополнение: 0.00&nbsp; Снятие: 0.00&nbsp; Баланс: 45.10</span><span style="position:absolute;right:180px">0.00</span><span style="position:absolute;right:91px">75.04</span></div>
<div style="position:absolute;left:1045px;top:3px;width:4px;height:123px;background:#f0f0f0"></div><div style="position:absolute;left:1045px;top:79px;width:4px;height:24px;background:#c8c8c8"></div>
<div style="position:absolute;left:13px;top:126px;width:136px;height:2px;background:#000"></div>
<div style="position:absolute;left:148px;top:126px;width:1px;height:4px;background:#000"></div>
<div style="position:absolute;left:215px;top:126px;width:834px;height:2px;background:#000"></div>
<div style="position:absolute;left:215px;top:126px;width:1px;height:4px;background:#000"></div>
</div>
</body></html>
